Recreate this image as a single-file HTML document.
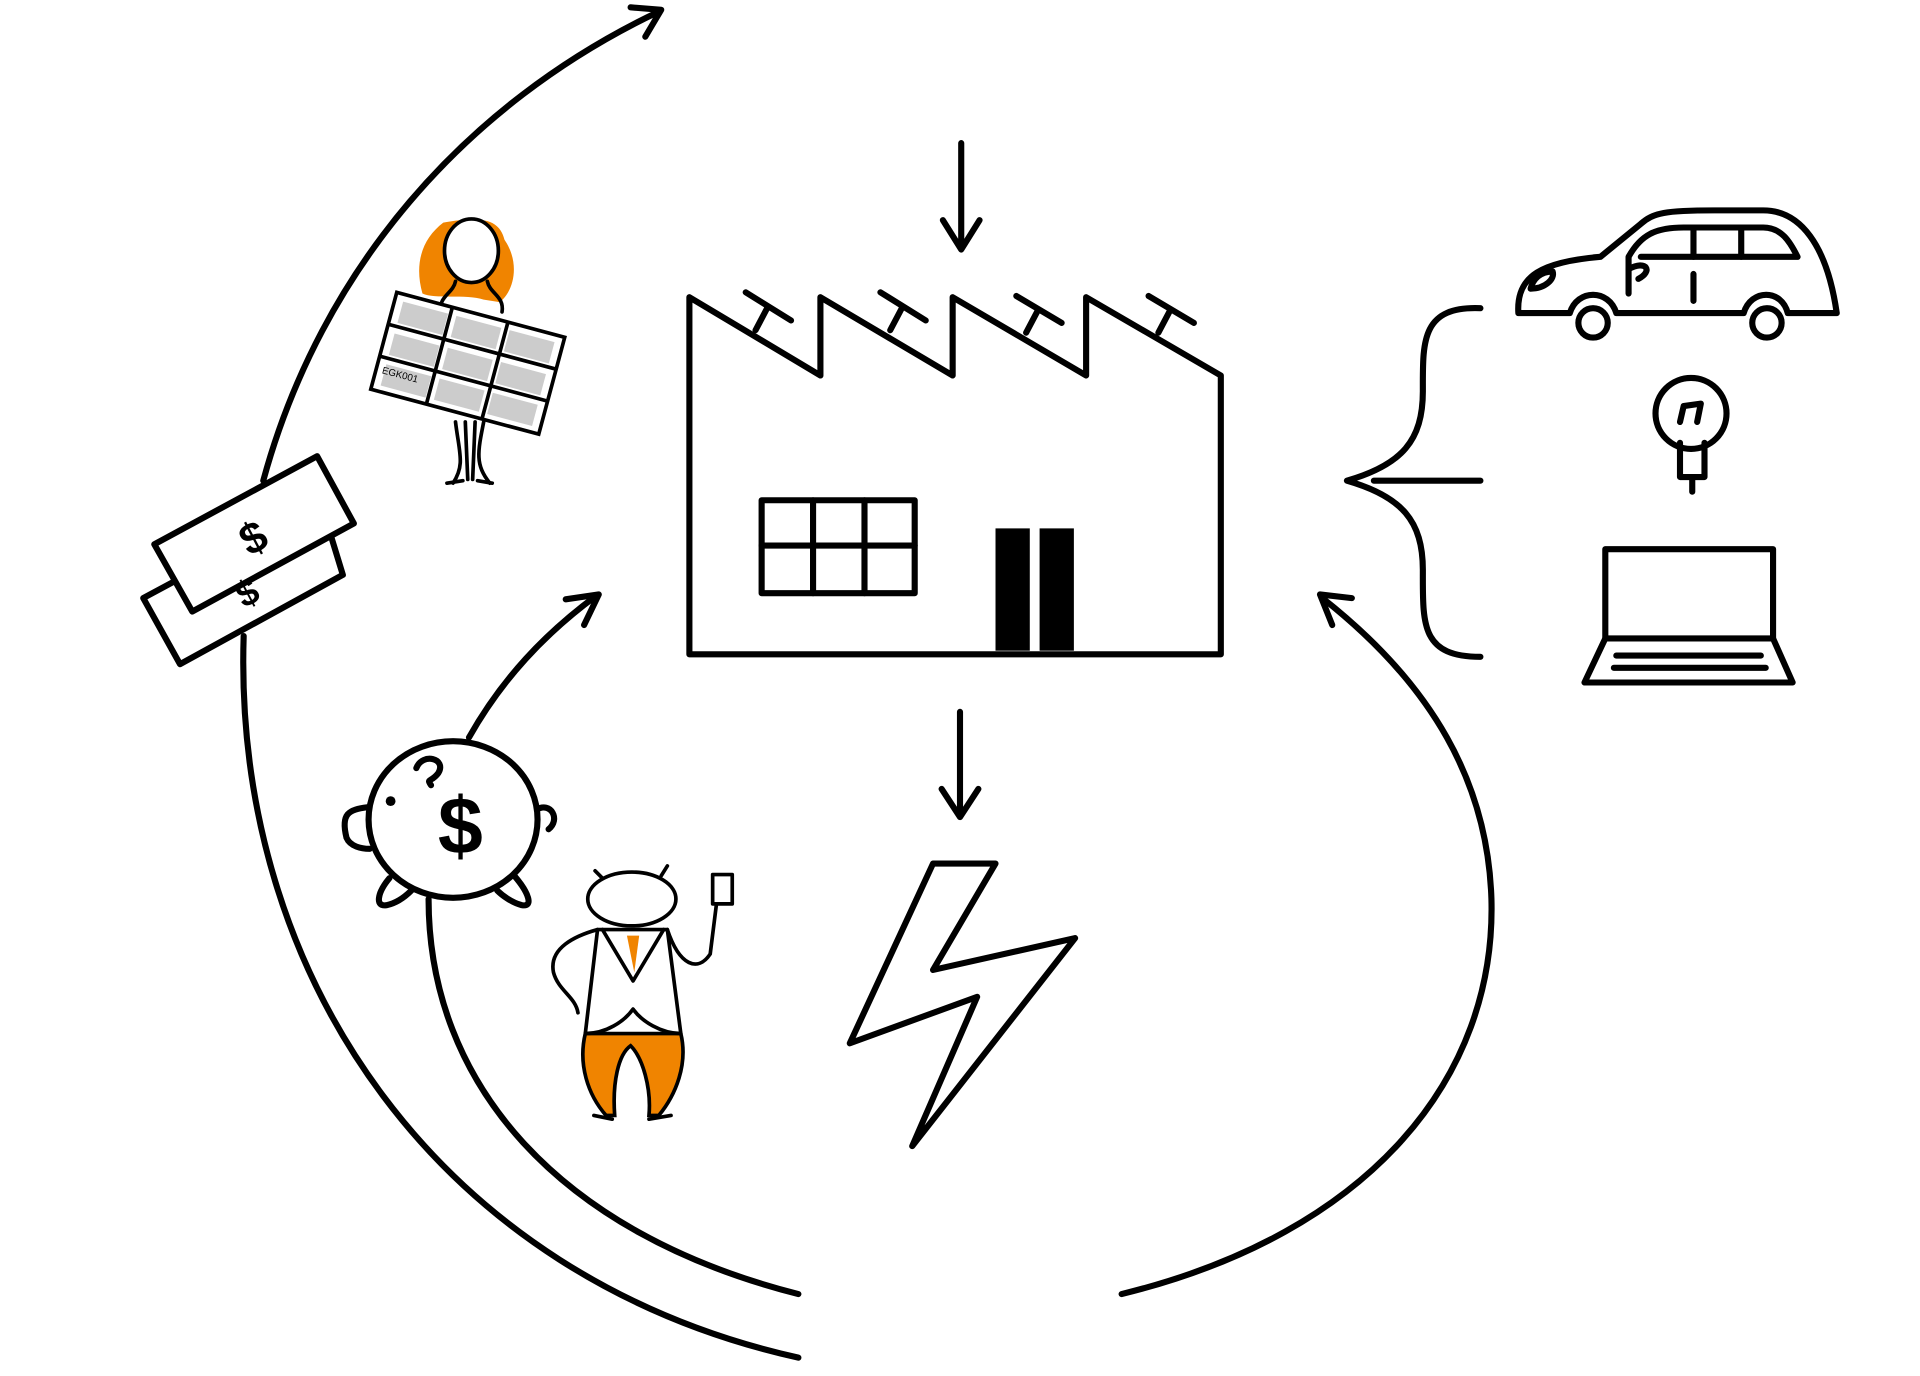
<!DOCTYPE html>
<html><head><meta charset="utf-8"><style>html,body{margin:0;padding:0;background:#fff}svg{display:block}</style></head>
<body>
<svg width="1920" height="1376" viewBox="0 0 1568 1125" preserveAspectRatio="none" xmlns="http://www.w3.org/2000/svg">
<g fill="none" stroke="#000" stroke-width="5" stroke-linecap="round" stroke-linejoin="round">
<!-- outer arc -->
<path d="M652,1110 C360,1045 190,800 199,520"/>
<path d="M215,393 C262,220 380,85 537,10"/>
<path d="M515,6 L540,8 L527,30"/>
<!-- inner arc -->
<path d="M652,1058 C455,1008 350,885 350,735"/>
<path d="M383,603 C410,555 445,518 487,487"/>
<path d="M462,490 L489,486 L477,511"/>
<!-- right arc -->
<path d="M916,1058 C1120,1008 1222,880 1218,735 C1215,640 1170,560 1080,489"/>
<path d="M1104,489 L1078,486 L1088,511"/>
<!-- arrows -->
<path d="M785,117 L785,204 M770,180 L785,204 L800,180"/>
<path d="M784,582 L784,668 M769,645 L784,668 L799,645"/>
<!-- factory -->
<path d="M563,243 L670,307 L670,243 L778,307 L778,243 L887,307 L887,243 L997,307 L997,535 L563,535 Z"/>
<path d="M609,239 L646,262 M627,251 L617,270"/>
<path d="M719,239 L756,262 M737,251 L727,270"/>
<path d="M830,242 L867,264 M848,253 L838,272"/>
<path d="M938,242 L975,264 M956,253 L946,272"/>
<rect x="622" y="409" width="125" height="76"/>
<path d="M664,409 L664,485 M706,409 L706,485 M622,446 L747,446"/>
<!-- lightning -->
<path d="M762,706 L813,706 L762,793 L878,767 L745,937 L798,815 L694,853 Z"/>
<!-- brace -->
<path d="M1209,252 C1160,250 1162,280 1162,320 C1162,360 1145,380 1100,393 C1145,406 1162,426 1162,466 C1162,510 1160,537 1209,537 M1122,393 L1209,393"/>
<!-- car -->
<path d="M1240,256 C1238,225 1260,214 1307,210 L1340,183 C1350,174 1360,172 1400,172 L1440,172 C1470,172 1492,200 1500,256 L1460,256 C1455,236 1430,236 1424,256 L1320,256 C1314,236 1288,236 1282,256 Z"/>
<path d="M1330,240 L1330,210 C1340,192 1352,186 1375,186 L1440,186 C1455,186 1462,198 1468,210 L1340,210"/>
<path d="M1383,188 L1383,210 M1422,188 L1422,210 M1383,224 L1383,246"/>
<path d="M1250,236 C1262,236 1270,228 1268,222 C1258,222 1252,228 1250,236"/>
<path d="M1330,220 C1345,212 1350,222 1338,228"/>
<circle cx="1301" cy="264" r="12"/><circle cx="1443" cy="264" r="12"/>
<!-- bulb -->
<circle cx="1381" cy="338" r="29"/>
<path d="M1372,345 L1375,332 L1389,330 L1386,345 M1372,362 L1372,390 L1392,390 L1392,362 M1382,392 L1382,402"/>
<!-- laptop -->
<rect x="1311" y="449" width="137" height="73"/>
<path d="M1311,522 L1294,558 L1464,558 L1448,522 M1320,536 L1438,536 M1318,546 L1442,546"/>
<!-- bills -->
<path d="M117,489 L262,411 L280,470 L147,543 Z" fill="#fff"/>
<path d="M126,445 L259,373 L289,428 L157,500 Z" fill="#fff"/>
<!-- piggy -->
<path d="M300,660 C285,662 278,665 283,685 C286,692 295,694 302,694"/>
<path d="M438,662 C450,655 458,670 448,678"/>
<path d="M318,718 C308,730 306,742 316,740 C325,738 332,732 336,728"/>
<path d="M420,716 C432,730 436,742 426,740 C418,738 410,732 406,728"/>
<ellipse cx="370" cy="670" rx="69" ry="64" fill="#fff"/>
<path d="M340,628 C345,615 365,620 358,632 C352,640 348,636 352,642"/>
</g>
<circle cx="319" cy="655" r="4"/>
<text x="376" y="698" font-family="Liberation Sans, sans-serif" font-size="66" font-weight="bold" text-anchor="middle">$</text>
<text x="207" y="452" font-family="Liberation Sans, sans-serif" font-size="36" font-weight="bold" text-anchor="middle" transform="rotate(-28 207 440)">$</text>
<text x="202" y="495" font-family="Liberation Sans, sans-serif" font-size="30" font-weight="bold" text-anchor="middle" transform="rotate(-28 202 485)">$</text>
<!-- door -->
<rect x="813" y="432" width="28" height="100" fill="#000"/>
<rect x="849" y="432" width="28" height="100" fill="#000"/>
<!-- woman -->
<path d="M362,182 C395,176 408,180 412,196 C425,215 420,238 408,247 L395,245 C380,240 355,245 345,240 C338,215 345,195 362,182 Z" fill="#f08400"/>
<g fill="none" stroke="#000" stroke-width="3" stroke-linecap="round" stroke-linejoin="round">
<ellipse cx="385" cy="205" rx="22" ry="26" fill="#fff"/>
<path d="M372,230 C370,240 358,242 360,255 M398,230 C400,240 412,242 410,255"/>
<path d="M372,345 C375,370 380,380 370,395 M395,345 C390,370 388,380 400,395 M380,345 L382,392 M388,345 L386,392"/>
<path d="M365,395 L378,393 M390,393 L402,395"/>
</g>
<g transform="rotate(15 382 297)">
<rect x="311" y="256" width="142" height="82" fill="#fff" stroke="#000" stroke-width="3"/>
<g fill="#ccc"><rect x="318" y="262" width="38" height="18"/><rect x="363" y="262" width="38" height="18"/><rect x="408" y="262" width="38" height="18"/>
<rect x="318" y="289" width="38" height="18"/><rect x="363" y="289" width="38" height="18"/><rect x="408" y="289" width="38" height="18"/>
<rect x="318" y="315" width="38" height="18"/><rect x="363" y="315" width="38" height="18"/><rect x="408" y="315" width="38" height="18"/></g>
<path d="M358,256 L358,338 M405,256 L405,338 M311,283 L453,283 M311,310 L453,310" stroke="#000" stroke-width="3"/>
<text x="316" y="323" font-family="Liberation Sans, sans-serif" font-size="8">EGK001</text>
</g>
<!-- man -->
<path d="M478,845 C472,870 480,895 495,912 L502,912 C500,885 505,862 515,855 C525,865 532,890 530,912 L538,912 C552,895 562,870 556,845 Z" fill="#f08400" stroke="#000" stroke-width="3"/>
<g fill="none" stroke="#000" stroke-width="3" stroke-linecap="round" stroke-linejoin="round">
<path d="M488,760 L478,845 C495,845 510,835 517,825 C524,835 540,845 556,845 L545,760 Z" fill="#fff"/>
<path d="M492,760 L517,802 L542,760"/>
<ellipse cx="516" cy="735" rx="36" ry="22" fill="#fff"/>
<path d="M488,760 C470,765 448,775 452,795 C456,810 470,815 472,828 M545,760 C555,790 570,795 580,780 L585,740"/>
<rect x="582" y="715" width="16" height="24" fill="#fff"/>
<path d="M485,912 L500,915 M530,915 L548,912 M486,712 L492,718 M545,708 L540,716"/>
</g>
<path d="M512,765 L522,765 L518,795 Z" fill="#f08400"/>
</svg>
</body></html>
